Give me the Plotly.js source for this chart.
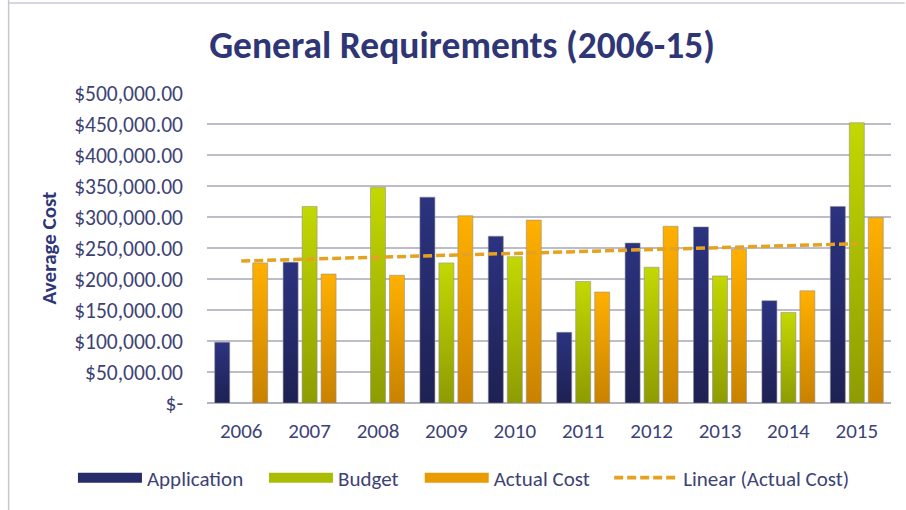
<!DOCTYPE html>
<html>
<head>
<meta charset="utf-8">
<script src="https://cdn.plot.ly/plotly-3.0.1.min.js"></script>
<style>
  html, body { margin: 0; padding: 0; background: #ffffff; }
  #chart { width: 906px; height: 510px; }
</style>
</head>
<body>
<div id="chart"></div>
<script>
// ---- data ----
var years = ["2006", "2007", "2008", "2009", "2010", "2011", "2012", "2013", "2014", "2015"];
var application = [98000, 227000, null, 332000, 269000, 114000, 258000, 284000, 165000, 317000];
var budget = [null, 317000, 348000, 226000, 236000, 196000, 219000, 205000, 146000, 452000];
var actualCost = [226000, 208000, 206000, 302000, 295000, 179000, 285000, 248000, 181000, 299000];
var tickValues = [0, 50000, 100000, 150000, 200000, 250000, 300000, 350000, 400000, 450000, 500000];
var tickLabels = ["$-", "$50,000.00", "$100,000.00", "$150,000.00", "$200,000.00", "$250,000.00",
                  "$300,000.00", "$350,000.00", "$400,000.00", "$450,000.00", "$500,000.00"];
var seriesNames = ["Application", "Budget", "Actual Cost", "Linear (Actual Cost)"];

// ---- linear trend of Actual Cost (least squares, like the spreadsheet trendline) ----
function linearTrend(vals) {
  var n = vals.length, sx = 0, sy = 0, sxy = 0, sxx = 0;
  for (var i = 0; i < n; i++) { sx += i; sy += vals[i]; sxy += i * vals[i]; sxx += i * i; }
  var slope = (n * sxy - sx * sy) / (n * sxx - sx * sx);
  var icpt = (sy - slope * sx) / n;
  return vals.map(function (_, i) { return icpt + slope * i; });
}
var trend = linearTrend(actualCost);

// ---- styles ----
var colApp = "#262b6a", colBud = "#aabd04", colAct = "#eb9b02", colTrend = "#e5a220";
var grads = [["#2c3380", "#1e2152"], ["#c3d802", "#8e9c02"], ["#ffb000", "#c98200"]];
var textCol = "#3d4275", titleCol = "#2f3676";
var fontFam = "Carlito, Lato, 'Open Sans', sans-serif";
var barLine = { color: "rgba(140,140,140,0.55)", width: 1 };

var traces = [
  { type: "bar", x: years, y: application, name: seriesNames[0], marker: { color: colApp, line: barLine }, showlegend: false },
  { type: "bar", x: years, y: budget, name: seriesNames[1], marker: { color: colBud, line: barLine }, showlegend: false },
  { type: "bar", x: years, y: actualCost, name: seriesNames[2], marker: { color: colAct, line: barLine }, showlegend: false },
  { type: "scatter", mode: "lines", x: years, y: trend, name: seriesNames[3],
    line: { color: colTrend, width: 3.5, dash: "9px,4px" }, showlegend: false, hoverinfo: "skip" },
  // legend entries (one small legend each, so they can be spaced like the original)
  { type: "scatter", mode: "lines", x: [null], y: [null], name: seriesNames[0], legend: "legend", line: { color: colApp, width: 12.5 } },
  { type: "scatter", mode: "lines", x: [null], y: [null], name: seriesNames[1], legend: "legend2", line: { color: colBud, width: 12.5 } },
  { type: "scatter", mode: "lines", x: [null], y: [null], name: seriesNames[2], legend: "legend3", line: { color: colAct, width: 12.5 } },
  { type: "scatter", mode: "lines", x: [null], y: [null], name: seriesNames[3], legend: "legend4", line: { color: colTrend, width: 3.8, dash: "9px,4px" } }
];

function legendAt(xp) {
  return { orientation: "h", x: xp, xanchor: "left", y: -0.242, yanchor: "middle",
           font: { family: fontFam, size: 21, color: textCol }, itemwidth: 64,
           bgcolor: "rgba(0,0,0,0)", borderwidth: 0 };
}

var layout = {
  width: 906, height: 510,
  margin: { l: 207, r: 15, t: 93, b: 107 },
  paper_bgcolor: "#ffffff", plot_bgcolor: "#ffffff",
  font: { family: fontFam, color: textCol, size: 17 },
  title: { text: "<b>General Requirements (2006-15)</b>", font: { family: fontFam, size: 37.5, color: titleCol },
           x: 0.51, xanchor: "center", y: 0.912, yanchor: "middle" },
  barmode: "group", bargap: 0.167, bargroupgap: 0.21,
  xaxis: { type: "category", showgrid: false, showline: false, zeroline: false, ticks: "",
           tickfont: { family: fontFam, size: 21, color: textCol }, ticklabelstandoff: 13, fixedrange: true },
  yaxis: { range: [0, 500000], tickvals: tickValues, ticktext: tickLabels, showgrid: true,
           gridcolor: "#bdbdc9", gridwidth: 1.6, zeroline: true, zerolinecolor: "#b3b3bf", zerolinewidth: 1.8,
           showline: false, ticks: "", ticklabelstandoff: 23,
           tickfont: { family: fontFam, size: 21.5, color: textCol },
           title: { text: "<b>Average Cost</b>", font: { family: fontFam, size: 21, color: titleCol }, standoff: 11 },
           fixedrange: true },
  legend: legendAt(-0.196),
  legend2: legendAt(0.0833),
  legend3: legendAt(0.311),
  legend4: legendAt(0.588),
  shapes: [
    { type: "line", xref: "paper", yref: "paper", x0: -0.29, x1: -0.29, y0: -0.35, y1: 1.3, line: { color: "#c8c8d0", width: 1.5 } },
    { type: "line", xref: "paper", yref: "paper", x0: -0.29, x1: 1.02, y0: 1.29, y1: 1.29, line: { color: "#c8c8d0", width: 1.5 } }
  ],
  showlegend: true
};

Plotly.newPlot("chart", traces, layout, { displayModeBar: false, staticPlot: true }).then(function (gd) {
  // vertical gradient fill on the bars, like the original
  var svg = gd.querySelector(".main-svg");
  var defs = svg.querySelector("defs") || svg.insertBefore(document.createElementNS("http://www.w3.org/2000/svg", "defs"), svg.firstChild);
  grads.forEach(function (g, i) {
    var lg = document.createElementNS("http://www.w3.org/2000/svg", "linearGradient");
    lg.setAttribute("id", "bargrad" + i);
    lg.setAttribute("x1", "0"); lg.setAttribute("y1", "0"); lg.setAttribute("x2", "0"); lg.setAttribute("y2", "1");
    [[0, g[0]], [1, g[1]]].forEach(function (s) {
      var st = document.createElementNS("http://www.w3.org/2000/svg", "stop");
      st.setAttribute("offset", s[0]); st.setAttribute("stop-color", s[1]);
      lg.appendChild(st);
    });
    defs.appendChild(lg);
  });
  var barTraces = gd.querySelectorAll(".barlayer .trace");
  barTraces.forEach(function (t, i) {
    t.querySelectorAll("path").forEach(function (p) { p.style.fill = "url(#bargrad" + i + ")"; });
  });
});
</script>
</body>
</html>
